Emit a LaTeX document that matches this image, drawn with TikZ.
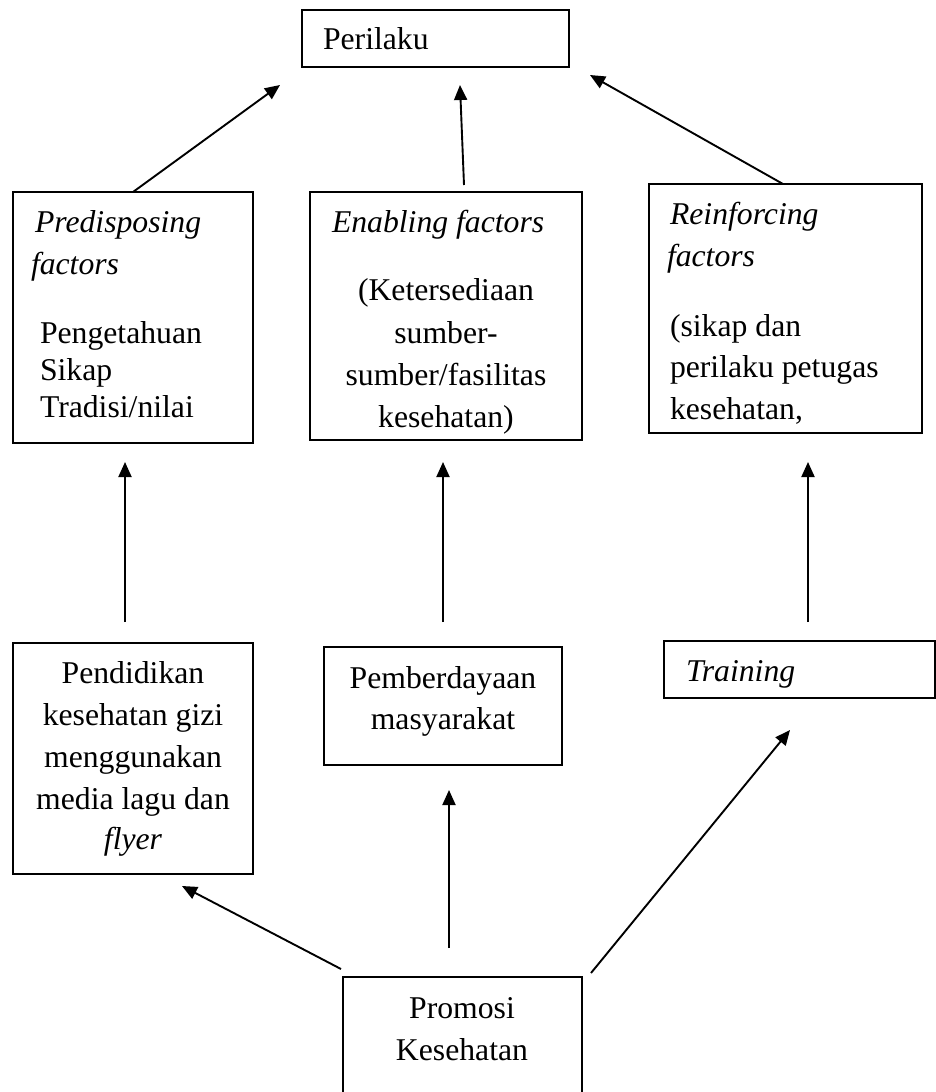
\documentclass[tikz,border=0pt]{standalone}
\usepackage{fontspec}
\setmainfont{Liberation Serif}
\usetikzlibrary{arrows.meta}
\begin{document}
\begin{tikzpicture}[x=1pt,y=-1pt,
  box/.style={draw,line width=1.3pt,inner sep=0pt,outer sep=0pt,rectangle},
  txt/.style={inner sep=0pt,outer sep=0pt,font=\fontsize{31.7}{38}\selectfont},
  ltxt/.style={txt,anchor=base west},
  ctxt/.style={txt,anchor=base},
  arr/.style={line width=1.9pt,-{Triangle[length=15pt,width=13pt]}}]
\useasboundingbox (0,0) rectangle (936,1092);
% boxes
\node[box,minimum width=267pt,minimum height=57pt] (peri) at (435.5,38.5) {};
\node[box,minimum width=240pt,minimum height=251pt] (pred) at (133,317.5) {};
\node[box,minimum width=272pt,minimum height=248pt] (enab) at (446,316) {};
\node[box,minimum width=273pt,minimum height=249pt] (rein) at (785.5,308.5) {};
\node[box,minimum width=240pt,minimum height=231pt] (pend) at (133,758.5) {};
\node[box,minimum width=238pt,minimum height=118pt] (pemb) at (443,706) {};
\node[box,minimum width=271pt,minimum height=57pt] (trai) at (799.5,669.5) {};
\node[box,minimum width=239pt,minimum height=124pt] (prom) at (462.5,1039) {};
% texts
\node[ltxt] (tperi) at (323,49) {Perilaku};
\node[ltxt] (tpred1) at (35,232) {\itshape Predisposing};
\node[ltxt] (tpred2) at (31,274) {\itshape factors};
\node[ltxt] (tpred3) at (40,343) {Pengetahuan};
\node[ltxt] (tpred4) at (40,380) {Sikap};
\node[ltxt] (tpred5) at (40,417) {Tradisi/nilai};
\node[ltxt] (tenab1) at (332,232) {\itshape Enabling factors};
\node[ctxt] (tenab2) at (446,300) {(Ketersediaan};
\node[ctxt] (tenab3) at (446,343) {sumber-};
\node[ctxt] (tenab4) at (446,385) {sumber/fasilitas};
\node[ctxt] (tenab5) at (446,427) {kesehatan)};
\node[ltxt] (trein1) at (670,224) {\itshape Reinforcing};
\node[ltxt] (trein2) at (667,266) {\itshape factors};
\node[ltxt] (trein3) at (670,336) {(sikap dan};
\node[ltxt] (trein4) at (670,377) {perilaku petugas};
\node[ltxt] (trein5) at (670,419) {kesehatan,};
\node[ctxt] (tpend1) at (133,683) {Pendidikan};
\node[ctxt] (tpend2) at (133,725) {kesehatan gizi};
\node[ctxt] (tpend3) at (133,767) {menggunakan};
\node[ctxt] (tpend4) at (133,809) {media lagu dan};
\node[ctxt] (tpend5) at (133,849) {\itshape flyer};
\node[ctxt] (tpemb1) at (443,688) {Pemberdayaan};
\node[ctxt] (tpemb2) at (443,729) {masyarakat};
\node[ltxt] (ttrai) at (686,681) {\itshape Training};
\node[ctxt] (tprom1) at (462,1018) {Promosi};
\node[ctxt] (tprom2) at (462,1060) {Kesehatan};
% connectors
\draw[arr] (pred.north) -- ([xshift=-22pt,yshift=-18pt]peri.south west);
\draw[arr] ([xshift=18pt,yshift=7pt]enab.north) -- ([xshift=24.5pt,yshift=-18pt]peri.south);
\draw[arr] ([xshift=-2.5pt]rein.north) -- ([xshift=21pt,yshift=-8pt]peri.south east);
\draw[arr] ([xshift=-8pt,yshift=21pt]pend.north) -- ([xshift=-8pt,yshift=-19pt]pred.south);
\draw[arr] ([yshift=25pt]pemb.north) -- ([xshift=-3pt,yshift=-22pt]enab.south);
\draw[arr] ([xshift=8.5pt,yshift=19pt]trai.north) -- ([xshift=22.5pt,yshift=-29pt]rein.south);
\draw[arr] ([xshift=-13.5pt,yshift=29pt]prom.north) -- ([xshift=6pt,yshift=-25pt]pemb.south);
\draw[arr] ([xshift=-2pt,yshift=8pt]prom.north west) -- ([xshift=-71pt,yshift=-12pt]pend.south east);
\draw[arr] ([xshift=9pt,yshift=4pt]prom.north east) -- ([xshift=126pt,yshift=-32pt]trai.south west);
\end{tikzpicture}
\end{document}
